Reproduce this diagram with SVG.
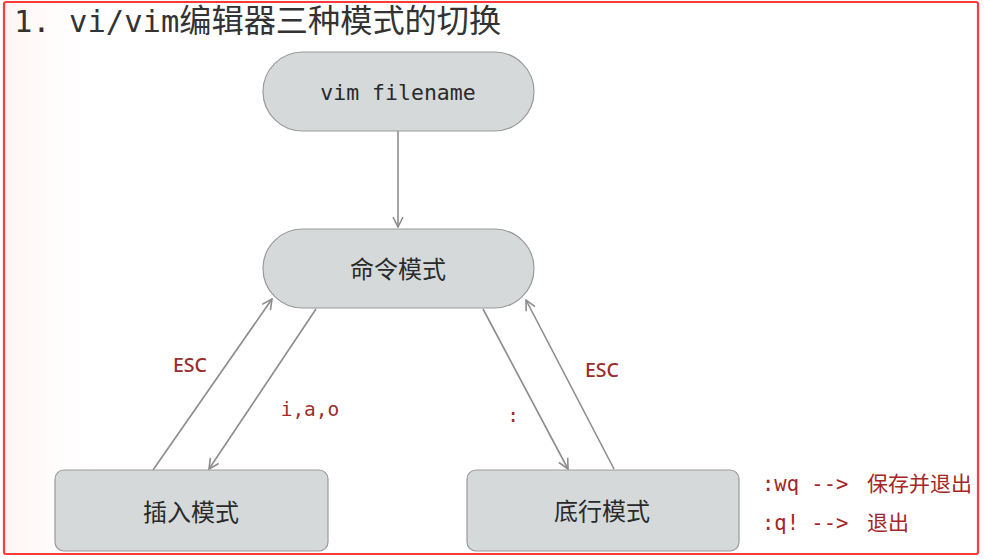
<svg xmlns="http://www.w3.org/2000/svg" width="984" height="559" viewBox="0 0 984 559">
<defs>
<style>
.node{fill:#d5d9da;stroke:#9a9a9a;stroke-width:1.2}
.nt{font-family:"Noto Sans CJK SC","Noto Sans",sans-serif;font-size:24px;fill:#2a2a2a;text-anchor:middle;dominant-baseline:central}
.mono{font-family:"DejaVu Sans Mono","Liberation Mono",monospace}
.lbl{fill:#9b2c2c;font-size:19.5px}
.conn{stroke:#8c8c8c;stroke-width:1.6;fill:none}
</style>
<marker id="ah" viewBox="0 0 12 12" refX="11" refY="6" markerWidth="12" markerHeight="12" markerUnits="userSpaceOnUse" orient="auto">
<path d="M1,1 L11,6 L1,11" fill="none" stroke="#8c8c8c" stroke-width="1.6"/>
</marker>
<linearGradient id="glow" x1="0" y1="0" x2="1" y2="0">
<stop offset="0" stop-color="#fff4f3"/>
<stop offset="1" stop-color="#ffffff" stop-opacity="0"/>
</linearGradient>
</defs>
<rect width="984" height="559" fill="#ffffff"/>
<rect x="5" y="3" width="100" height="550" fill="url(#glow)"/>
<rect x="4" y="2" width="974" height="552" fill="none" stroke="#ff3b3b" stroke-width="2.2" rx="2"/>
<text x="14" y="32" fill="#333"><tspan class="mono" font-size="30.5">1. vi/vim</tspan><tspan font-family="Noto Sans CJK SC,sans-serif" font-size="32.2">编辑器三种模式的切换</tspan></text>

<g id="connectors">
<line class="conn" x1="398" y1="131" x2="398" y2="227" marker-end="url(#ah)"/>
<line class="conn" x1="153" y1="470" x2="272" y2="299" marker-end="url(#ah)"/>
<line class="conn" x1="316" y1="309" x2="209" y2="469" marker-end="url(#ah)"/>
<line class="conn" x1="483" y1="309" x2="568" y2="469" marker-end="url(#ah)"/>
<line class="conn" x1="614" y1="469" x2="526" y2="300" marker-end="url(#ah)"/>
<text class="lbl" x="190" y="372" text-anchor="middle" font-family="Noto Sans,DejaVu Sans,sans-serif" font-size="20.5" font-weight="500">ESC</text>
<text class="lbl mono" x="310" y="416" text-anchor="middle">i,a,o</text>
<text class="lbl mono" x="513" y="422" text-anchor="middle">:</text>
<text class="lbl" x="602" y="377" text-anchor="middle" font-family="Noto Sans,DejaVu Sans,sans-serif" font-size="20.5" font-weight="500">ESC</text>
</g>

<g id="n-vim">
<rect class="node" x="263" y="52" width="271" height="79" rx="39.5"/>
<text class="mono" x="398" y="92" font-size="21.5" fill="#2a2a2a" text-anchor="middle" dominant-baseline="central">vim filename</text>
</g>
<g id="n-cmd">
<rect class="node" x="263" y="229" width="271" height="79" rx="39.5"/>
<text class="nt" x="398" y="267">命令模式</text>
</g>
<g id="n-insert">
<rect class="node" x="55" y="470" width="273" height="81" rx="9"/>
<text class="nt" x="191" y="510">插入模式</text>
</g>
<g id="n-last">
<rect class="node" x="467" y="470" width="272" height="81" rx="9"/>
<text class="nt" x="602" y="509">底行模式</text>
</g>

<g id="notes" fill="#a52626" font-size="21">
<text x="762" y="491"><tspan class="mono" font-size="20.5">:wq --&gt;</tspan><tspan x="867" font-family="Noto Sans CJK SC,sans-serif">保存并退出</tspan></text>
<text x="762" y="530"><tspan class="mono" font-size="20.5">:q! --&gt;</tspan><tspan x="867" font-family="Noto Sans CJK SC,sans-serif">退出</tspan></text>
</g>
</svg>
